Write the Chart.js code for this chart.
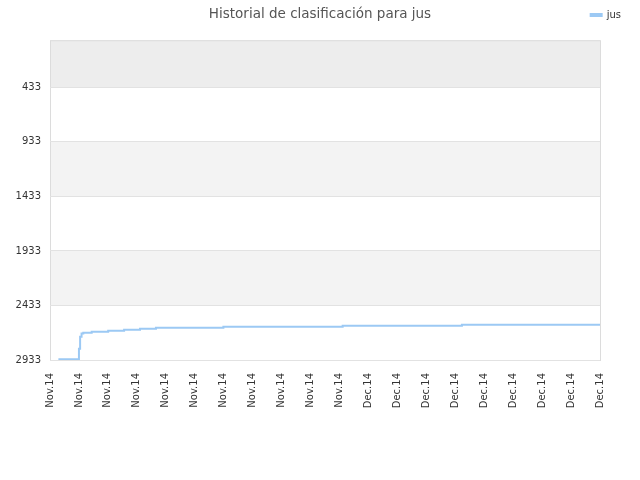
<!DOCTYPE html>
<html>
<head>
<meta charset="utf-8">
<script src="https://cdn.jsdelivr.net/npm/chart.js@4/dist/chart.umd.min.js"></script>
<style>
  html, body { margin: 0; padding: 0; background: #fff; }
  #wrap { width: 640px; height: 480px; }
</style>
</head>
<body>
<div id="wrap"><canvas id="rankChart"></canvas></div>
<script>
// tick labels along the bottom (one per column)
const xLabels = ['Nov.14', 'Nov.14', 'Nov.14', 'Nov.14', 'Nov.14', 'Nov.14', 'Nov.14', 'Nov.14', 'Nov.14', 'Nov.14', 'Nov.14',
                 'Dec.14', 'Dec.14', 'Dec.14', 'Dec.14', 'Dec.14', 'Dec.14', 'Dec.14', 'Dec.14', 'Dec.14'];
const yTicks = [433, 933, 1433, 1933, 2433, 2933];

// ranking history for "jus" (x = position along the label columns)
const rankX = [0.29, 1.00, 1.04, 1.09, 1.15, 1.44, 2.01, 2.56, 3.11, 3.66, 5.99, 10.11, 14.23, 19];
const rankY = [2927, 2830, 2720, 2690, 2683, 2674, 2664, 2655, 2646, 2637, 2628, 2618, 2609, 2609];

const rankPoints = rankX.map((x, i) => ({ x: x, y: rankY[i] }));

// alternate background bands between the y ticks
const bandPlugin = {
    id: 'bands',
    beforeDraw(chart) {
        const { ctx, chartArea } = chart;
        const y = chart.scales.y;
        const edges = [y.min, ...yTicks];
        ctx.save();
        for (let i = 0; i < edges.length - 1; i++) {
            const top = y.getPixelForValue(edges[i]);
            const bottom = y.getPixelForValue(edges[i + 1]);
            ctx.fillStyle = i === 0 ? '#ededed' : (i % 2 === 0 ? '#f3f3f3' : '#ffffff');
            ctx.fillRect(chartArea.left, top, chartArea.right - chartArea.left, bottom - top);
        }
        ctx.strokeStyle = '#dcdcdc';
        ctx.lineWidth = 1;
        ctx.strokeRect(chartArea.left + 0.5, chartArea.top + 0.5, chartArea.right - chartArea.left, chartArea.bottom - chartArea.top);
        ctx.restore();
    },
    afterLayout(chart) {
        // legend on the title row, title centred on the whole canvas
        const lg = chart.legend;
        const h = lg.bottom - lg.top;
        lg.top = 8;
        lg.bottom = 8 + h;
        lg.left += 23;
        lg.right += 23;
        const tb = chart.titleBlock;
        tb.right += 40;
        tb.top += 4;
        tb.bottom += 4;
    }
};

new Chart(document.getElementById('rankChart').getContext('2d'), {
    type: 'line',
    data: {
        datasets: [{
            label: 'jus',
            data: rankPoints,
            borderColor: '#9cc9f4',
            backgroundColor: '#9cc9f4',
            borderWidth: 2,
            pointRadius: 0,
            stepped: true,
            fill: false
        }]
    },
    options: {
        responsive: true,
        maintainAspectRatio: false,
        animation: false,
        layout: { padding: { left: 0, right: 40, top: 0, bottom: 0 } },
        plugins: {
            title: {
                display: true,
                text: 'Historial de clasificación para jus',
                color: '#555',
                font: { family: 'DejaVu Sans', size: 13.5, weight: 'normal' },
                padding: { top: 2, bottom: 0 }
            },
            legend: {
                position: 'top',
                align: 'end',
                labels: {
                    color: '#333',
                    font: { family: 'DejaVu Sans', size: 10 },
                    boxWidth: 11,
                    boxHeight: 2,
                    padding: 2
                }
            },
            tooltip: { enabled: false }
        },
        scales: {
            x: {
                type: 'linear',
                min: 0,
                max: xLabels.length - 1,
                afterFit(scale) { scale.height = 120; },
                afterBuildTicks(scale) {
                    scale.ticks = xLabels.map((_, i) => ({ value: i }));
                },
                ticks: {
                    autoSkip: false,
                    maxRotation: 90,
                    minRotation: 90,
                    padding: 5,
                    color: '#333',
                    font: { family: 'DejaVu Sans', size: 10 },
                    callback: (v) => xLabels[v]
                },
                grid: { display: false },
                border: { display: false }
            },
            y: {
                reverse: true,
                min: 1,
                max: 2933,
                afterFit(scale) { scale.width = 50; },
                afterBuildTicks(scale) {
                    scale.ticks = yTicks.map(v => ({ value: v }));
                },
                ticks: {
                    padding: 9,
                    color: '#333',
                    font: { family: 'DejaVu Sans', size: 10 },
                    callback: (v) => String(v)
                },
                grid: { color: '#e2e2e2', drawTicks: false },
                border: { display: false }
            }
        }
    },
    plugins: [bandPlugin]
});
</script>
</body>
</html>
